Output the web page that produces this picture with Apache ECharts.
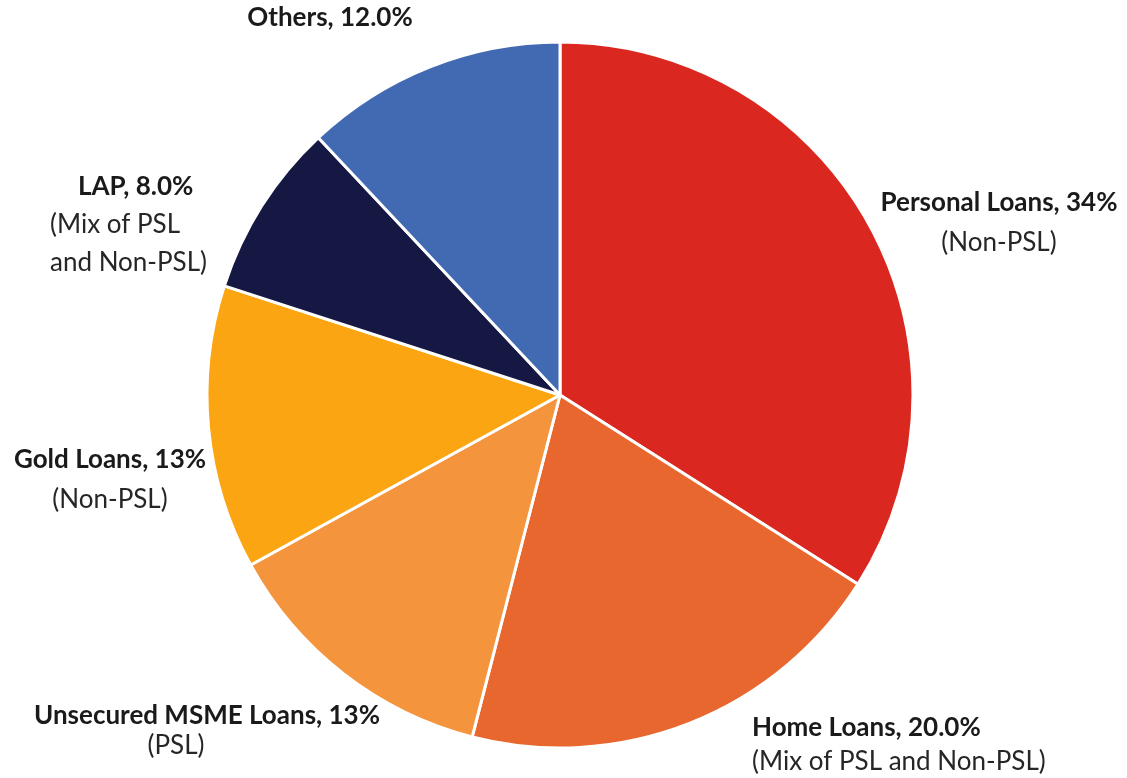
<!DOCTYPE html>
<html>
<head>
<meta charset="utf-8">
<script src="https://cdn.jsdelivr.net/npm/echarts@6/dist/echarts.min.js"></script>
<style>
	html,body{margin:0;padding:0;background:#ffffff;}
	#chart{width:1127px;height:778px;}
</style>
</head>
<body>
<div id="chart"></div>
<script>
// loan book mix
const names = ['Personal Loans', 'Home Loans', 'Unsecured MSME Loans', 'Gold Loans', 'LAP', 'Others']
const values = [34, 20, 13, 13, 8, 12]
const pctLabels = ['34%', '20.0%', '13%', '13%', '8.0%', '12.0%']
const subLabels = ['(Non-PSL)', '(Mix of PSL and Non-PSL)', '(PSL)', '(Non-PSL)', '(Mix of PSL\nand Non-PSL)', '']
const colors = ['#da2820', '#e8672e', '#f4953e', '#fca512', '#151843', '#416ab3']

// where each label block sits (x, top, align, line height)
const labelPos = [
	{x:999, y:183, align:'center', lh:40},
	{x:752, y:711, align:'left', lh:34},
	{x:207, y:701, align:'center', lh:30},
	{x:110, y:440, align:'center', lh:40},
	{x:50, y:168, align:'left', lh:38},
	{x:330, y:-1, align:'center', lh:38}
]

const font = 'Lato, "Open Sans", sans-serif'

const data = []
for(let i = 0 ; i < names.length ; i ++){
	const lh = labelPos[i].lh
	const bPad = i == 4 ? [0,0,0,28] : 0
	const sPad = i == 2 ? [0,62,0,0] : 0
	data.push({
		name:names[i],
		value:values[i],
		itemStyle:{color:colors[i]},
		label:{
			formatter:'{b|' + names[i] + ', ' + pctLabels[i] + '}' + (subLabels[i] ? '\n' + subLabels[i].split('\n').map(s => '{s|' + s + '}').join('\n') : ''),
			rich:{
				b:{fontFamily:font, fontWeight:'bold', fontSize:26, color:'#1a1a1a', lineHeight:lh, padding:bPad},
				s:{fontFamily:font, fontSize:26, color:'#262626', lineHeight:lh, padding:sPad}
			}
		}
	})
}

const chart = echarts.init(document.getElementById('chart'))
chart.setOption({
	animation:false,
	series:[{
		type:'pie',
		center:[560, 395],
		radius:353,
		startAngle:90,
		clockwise:true,
		itemStyle:{borderColor:'#ffffff', borderWidth:3},
		label:{show:true, position:'outside', overflow:'none', width:null},
		labelLine:{show:false},
		labelLayout:function(params){
			const p = labelPos[params.dataIndex]
			return {x:p.x, y:p.y, align:p.align, verticalAlign:'top'}
		},
		emphasis:{disabled:true},
		data:data
	}]
})
</script>
</body>
</html>
